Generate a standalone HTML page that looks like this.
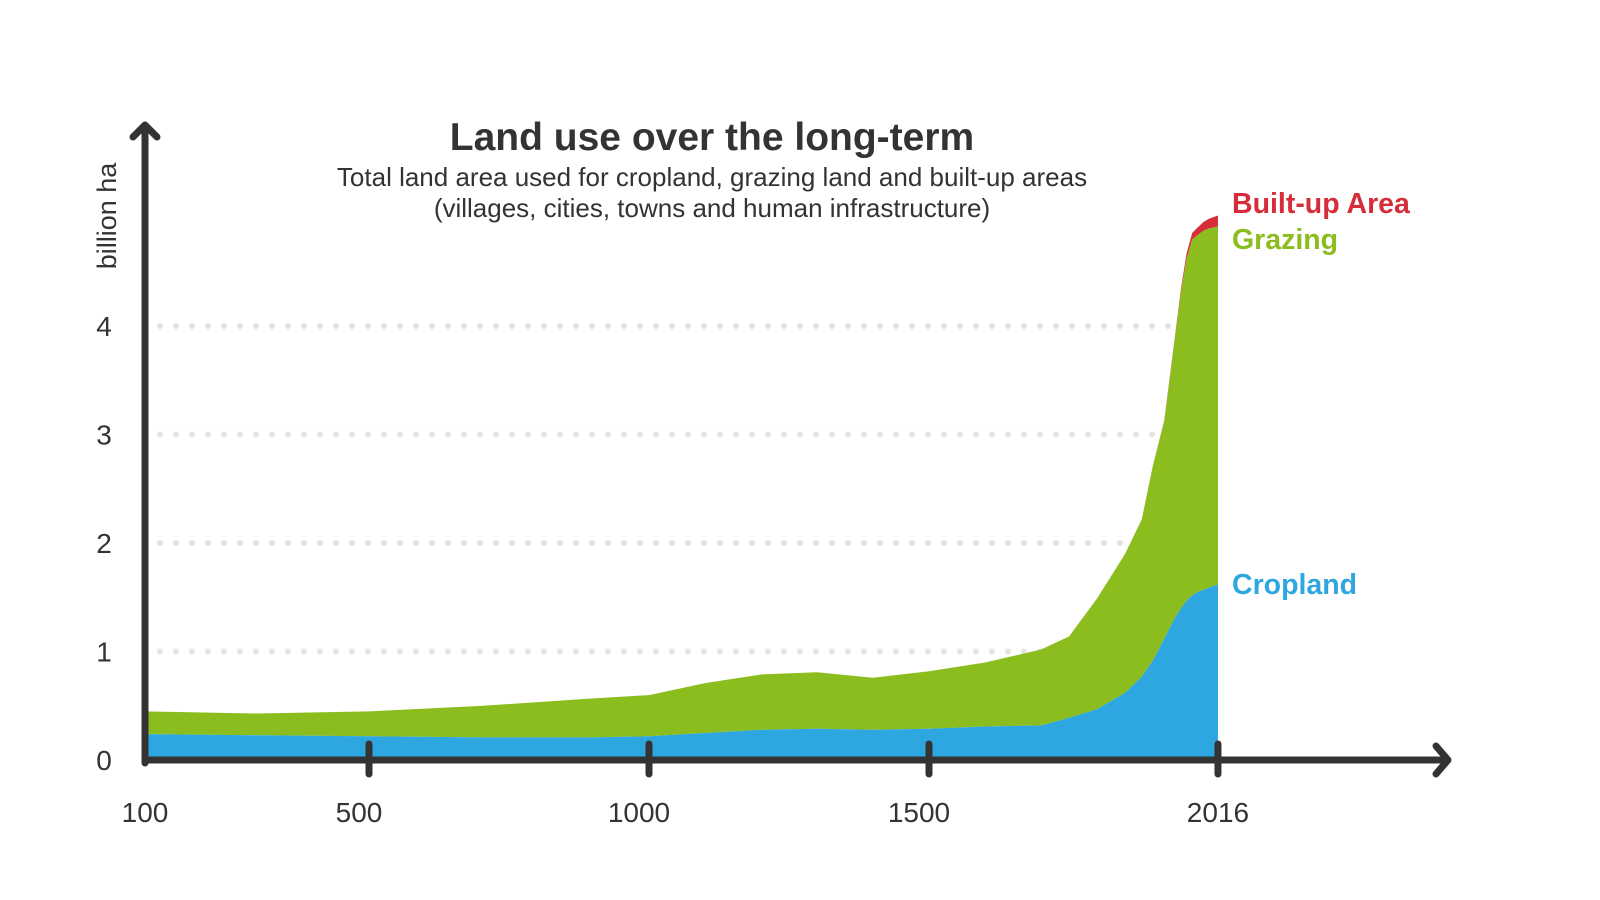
<!DOCTYPE html>
<html><head><meta charset="utf-8"><style>
body{margin:0;background:#fff;}
svg{display:block;font-family:"Liberation Sans",sans-serif;}
</style></head><body>
<svg id="chart" width="1600" height="900" viewBox="0 0 1600 900">
<text x="712" y="150" text-anchor="middle" font-size="39" font-weight="bold" fill="#333">Land use over the long-term</text>
<text x="712" y="186" text-anchor="middle" font-size="26" fill="#333">Total land area used for cropland, grazing land and built-up areas</text>
<text x="712" y="217" text-anchor="middle" font-size="26" fill="#333">(villages, cities, towns and human infrastructure)</text>
<text transform="translate(116,216) rotate(-90)" text-anchor="middle" font-size="27" fill="#333">billion ha</text>
<g id="grid"></g><g id="areas"></g><g id="axes"></g><g id="labels"></g>
<text x="1232" y="213" font-size="28.5" font-weight="bold" fill="#d62d3a">Built-up Area</text>
<text x="1232" y="249" font-size="28.5" font-weight="bold" fill="#8cbd1e">Grazing</text>
<text x="1232" y="594" font-size="28.5" font-weight="bold" fill="#2ea6e0">Cropland</text>
</svg>
<script>
const years=[100,300,500,700,900,1000,1100,1200,1300,1400,1500,1600,1700,1750,1800,1850,1880,1900,1920,1940,1950,1960,1970,1980,1990,2000,2016];
const cropland=[0.22,0.21,0.20,0.19,0.19,0.20,0.23,0.26,0.27,0.26,0.27,0.29,0.30,0.37,0.45,0.6,0.75,0.9,1.1,1.3,1.38,1.45,1.5,1.53,1.55,1.57,1.6];
const grazing=[0.21,0.20,0.23,0.29,0.36,0.38,0.46,0.51,0.52,0.48,0.53,0.59,0.70,0.75,1.02,1.28,1.45,1.8,2.0,2.6,2.92,3.15,3.28,3.29,3.31,3.31,3.3];
const builtup=[0,0,0,0,0,0,0,0,0,0,0,0,0,0,0,0,0,0,0.01,0.02,0.03,0.05,0.06,0.07,0.08,0.09,0.1];
const yTicks=[0,1,2,3,4];
const xTicks=[100,500,1000,1500,2016];
const xTickLabels=["100","500","1000","1500","2016"];
const NS="http://www.w3.org/2000/svg";
const X=y=>145+(y-100)*0.56;
const Y=v=>758-v*108.5;
function mk(t,a,p){const e=document.createElementNS(NS,t);for(const k in a)e.setAttribute(k,a[k]);p.appendChild(e);return e;}
const grid=document.getElementById('grid'),areas=document.getElementById('areas'),axes=document.getElementById('axes'),labels=document.getElementById('labels');
yTicks.forEach(v=>{
 if(v>0){const l=mk('line',{x1:160,x2:1180,y1:Y(v)+2,y2:Y(v)+2,stroke:'#e3e3e3','stroke-width':6,'stroke-linecap':'round','stroke-dasharray':'0 16'},grid);
 
 }
 const t=mk('text',{x:104,y:Y(v)+12,'text-anchor':'middle','font-size':28,fill:'#333'},labels);t.textContent=v;
 
 
});
const base=years.map(()=>0),s1=cropland,s2=cropland.map((c,i)=>c+grazing[i]),s3=s2.map((c,i)=>c+builtup[i]);
function area(lo,hi,col,name){
 let d='M'+X(years[0])+','+Y(hi[0]);
 for(let i=1;i<years.length;i++)d+='L'+X(years[i])+','+Y(hi[i]);
 for(let i=years.length-1;i>=0;i--)d+='L'+X(years[i])+','+Y(lo[i]);
 const p=mk('path',{d:d+'Z',fill:col},areas);
 
 
}
area(s2,s3,'#d62d3a','area-built-up');
area(s1,s2,'#8cbd1e','area-grazing');
area(base,s1,'#2ea6e0','area-cropland');
const ya=mk('path',{d:'M145,763 L145,125 M133,137 L145,125 L157,137',stroke:'#333','stroke-width':7,fill:'none','stroke-linecap':'round','stroke-linejoin':'round'},axes);


const xa=mk('path',{d:'M145,760 L1448,760 M1436,746 L1448,760 L1436,774',stroke:'#333','stroke-width':7,fill:'none','stroke-linecap':'round','stroke-linejoin':'round'},axes);


xTicks.forEach((yr,i)=>{
 if(i>0){const l=mk('line',{x1:X(yr),x2:X(yr),y1:744,y2:774,stroke:'#333','stroke-width':7,'stroke-linecap':'round'},axes);
 
 }
 const t=mk('text',{x:X(yr)-(i>0&&i<4?10:0),y:822,'text-anchor':'middle','font-size':28,fill:'#333'},labels);t.textContent=xTickLabels[i];
 
 
});
</script>
</body></html>
